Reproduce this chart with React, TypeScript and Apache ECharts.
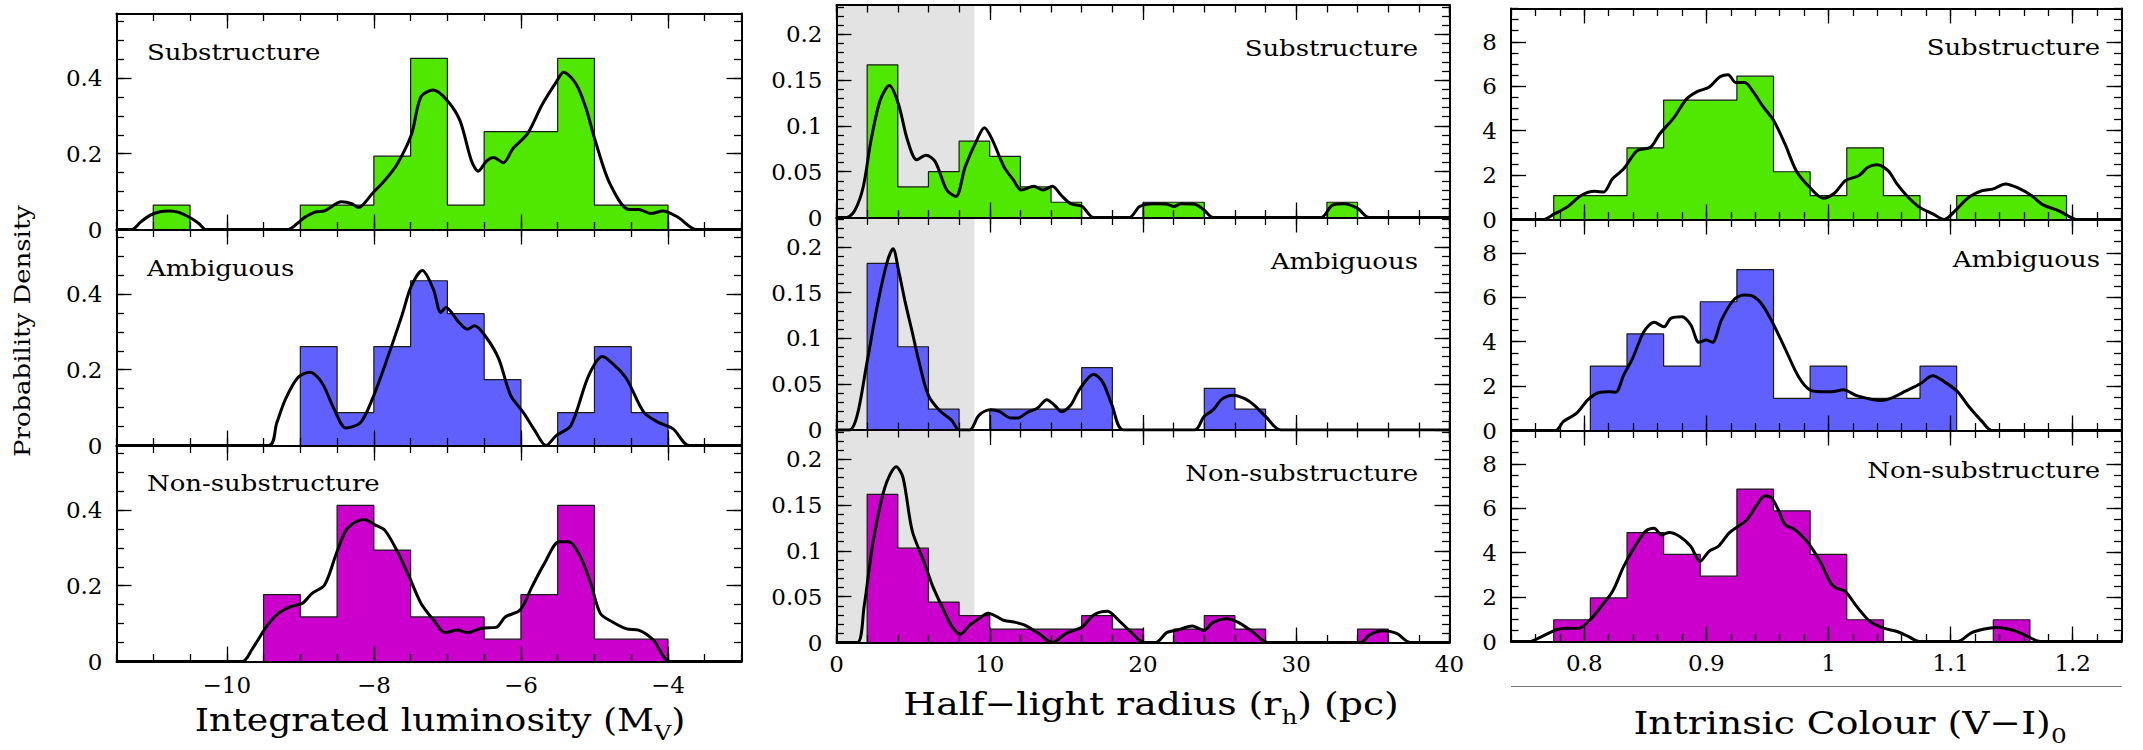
import React, { useEffect, useRef } from "react";
import * as echarts from "echarts";

const FONT = "'DejaVu Serif', 'Liberation Serif', serif";
const STRETCH = 1.18;

// ---------------- Histogram counts ----------------
// Integrated luminosity (M_V): bins of 0.5 mag starting at -11
const lumBinStart = -11;
const lumBinWidth = 0.5;
const lumCountsSub = [1, 0, 0, 0, 1, 1, 3, 7, 1, 4, 4, 7, 1, 1];
const lumCountsAmb = [0, 0, 0, 0, 3, 1, 3, 5, 4, 2, 0, 1, 3, 1];
const lumCountsNon = [0, 0, 0, 3, 2, 7, 5, 2, 2, 1, 3, 7, 1, 1];

// Half-light radius (pc): bins of 2 pc starting at 0
const rhBinStart = 0;
const rhBinWidth = 2;
const rhCountsSub = [0, 10, 2, 3, 5, 4, 2, 1, 0, 0, 1, 1, 0, 0, 0, 0, 1, 0, 0];
const rhCountsAmb = [0, 8, 4, 1, 0, 1, 1, 1, 3, 0, 0, 0, 2, 1, 0, 0, 0, 0, 0];
const rhCountsNon = [0, 11, 7, 3, 2, 1, 1, 1, 2, 1, 0, 1, 2, 1, 0, 0, 0, 1, 0];

// Intrinsic colour (V-I)_0: bins of 0.03 starting at 0.775
const colBinStart = 0.775;
const colBinWidth = 0.03;
const colCountsSub = [1, 1, 3, 5, 5, 6, 2, 1, 3, 1, 0, 1, 1, 1];
const colCountsAmb = [0, 2, 3, 2, 4, 5, 1, 2, 1, 1, 2, 0, 0, 0];
const colCountsNon = [1, 2, 5, 4, 3, 7, 6, 4, 1, 0, 0, 0, 1, 0];

// ---------------- KDE curves ----------------
const lumKdeSub = [[-11.5,0],[-11.29,0],[-11.17,0.02],[-11.04,0.038],[-10.91,0.047],[-10.78,0.049],[-10.65,0.045],[-10.48,0.029],[-10.38,0.016],[-10.28,0],[-9.17,0],[-9.03,0.018],[-8.94,0.032],[-8.8,0.046],[-8.67,0.049],[-8.44,0.073],[-8.3,0.068],[-8.21,0.058],[-8.02,0.095],[-7.85,0.13],[-7.69,0.17],[-7.49,0.25],[-7.36,0.35],[-7.19,0.368],[-7.0,0.34],[-6.83,0.288],[-6.67,0.18],[-6.58,0.154],[-6.47,0.18],[-6.37,0.19],[-6.24,0.176],[-6.11,0.213],[-5.91,0.253],[-5.71,0.33],[-5.52,0.389],[-5.42,0.415],[-5.25,0.384],[-5.12,0.323],[-4.99,0.235],[-4.79,0.121],[-4.53,0.053],[-4.4,0.053],[-4.23,0.042],[-4.07,0.049],[-3.87,0.033],[-3.61,0],[-3,0]];
const lumKdeAmb = [[-11.5,0],[-9.43,0],[-9.32,0.06],[-9.2,0.123],[-9.03,0.18],[-8.87,0.193],[-8.71,0.167],[-8.54,0.096],[-8.38,0.046],[-8.18,0.061],[-8.02,0.123],[-7.82,0.228],[-7.62,0.342],[-7.49,0.421],[-7.34,0.462],[-7.19,0.412],[-7.09,0.351],[-7.02,0.364],[-6.86,0.329],[-6.73,0.307],[-6.63,0.316],[-6.47,0.285],[-6.3,0.228],[-6.14,0.132],[-5.97,0.088],[-5.81,0.039],[-5.66,0],[-5.52,0.026],[-5.32,0.053],[-5.08,0.184],[-4.89,0.235],[-4.72,0.21],[-4.56,0.175],[-4.33,0.088],[-4.13,0.061],[-3.93,0.044],[-3.71,0],[-3,0]];
const lumKdeNon = [[-11.5,0],[-9.79,0],[-9.66,0.031],[-9.46,0.092],[-9.3,0.127],[-9.13,0.145],[-8.97,0.154],[-8.84,0.18],[-8.67,0.202],[-8.51,0.285],[-8.38,0.346],[-8.25,0.368],[-8.13,0.375],[-7.98,0.36],[-7.85,0.346],[-7.69,0.294],[-7.52,0.224],[-7.36,0.154],[-7.19,0.11],[-7.03,0.076],[-6.86,0.083],[-6.73,0.076],[-6.54,0.088],[-6.34,0.09],[-6.21,0.118],[-6.01,0.136],[-5.85,0.197],[-5.68,0.259],[-5.48,0.316],[-5.35,0.316],[-5.19,0.276],[-5.05,0.206],[-4.92,0.127],[-4.76,0.105],[-4.56,0.086],[-4.4,0.083],[-4.2,0.057],[-3.97,0],[-3,0]];

const rhKdeSub = [[0,0],[0.66,0],[1.2,0.008],[1.74,0.033],[2.25,0.084],[2.85,0.128],[3.45,0.144],[4.04,0.124],[4.64,0.084],[5.24,0.063],[5.84,0.068],[6.44,0.061],[7.19,0.03],[7.79,0.023],[8.39,0.055],[9.14,0.084],[9.65,0.098],[10.19,0.084],[10.94,0.055],[11.54,0.041],[12.05,0.03],[12.88,0.034],[13.48,0.03],[14.08,0.034],[14.68,0.024],[15.28,0.015],[16.03,0.012],[16.78,0],[19.1,0],[19.78,0.012],[20.67,0.015],[21.57,0.0145],[22.02,0.012],[22.47,0.015],[23.37,0.0145],[24.0,0.008],[24.57,0],[31.6,0],[32.36,0.0135],[33.1,0.015],[34.0,0.01],[34.76,0],[40,0]];
const rhKdeAmb = [[0,0],[0.84,0],[1.35,0.016],[1.95,0.07],[2.7,0.139],[3.3,0.183],[3.69,0.198],[4.04,0.175],[4.49,0.139],[4.94,0.107],[5.39,0.074],[5.99,0.038],[6.74,0.021],[7.49,0.011],[8.03,0],[8.69,0],[9.29,0.016],[10.04,0.022],[10.64,0.02],[11.39,0.013],[11.84,0.013],[12.43,0.019],[13.12,0.024],[13.72,0.033],[14.23,0.027],[14.68,0.02],[15.28,0.027],[15.88,0.045],[16.78,0.061],[17.38,0.052],[17.98,0.027],[18.73,0],[23.37,0],[23.97,0.0145],[24.57,0.022],[25.17,0.034],[25.92,0.038],[26.67,0.034],[27.27,0.027],[28.01,0.0145],[29.0,0],[40,0]];
const rhKdeNon = [[0,0],[1.35,0],[1.8,0.039],[2.4,0.111],[3.15,0.169],[3.9,0.192],[4.34,0.18],[4.94,0.122],[5.69,0.089],[6.29,0.061],[6.89,0.039],[7.55,0.017],[8.09,0.009],[8.69,0.019],[9.29,0.026],[9.89,0.032],[10.49,0.028],[10.94,0.024],[11.69,0.022],[12.28,0.019],[13.18,0.01],[14.08,0],[14.98,0.01],[16.03,0.017],[16.78,0.03],[17.68,0.034],[18.43,0.024],[19.18,0.012],[20.07,0],[20.82,0],[21.57,0.011],[22.32,0.014],[23.22,0.018],[23.97,0.013],[24.57,0.022],[25.47,0.026],[26.22,0.022],[27.12,0.012],[28.16,0],[34.2,0],[34.76,0.008],[35.66,0.0127],[36.55,0.01],[37.45,0],[40,0]];

const colKdeSub = [[0.74,0],[0.7662,0],[0.7754,0.25],[0.7864,0.58],[0.7974,1.08],[0.8084,1.27],[0.8158,1.24],[0.8231,1.83],[0.8323,2.28],[0.8433,3.1],[0.8543,3.25],[0.8617,3.85],[0.869,4.3],[0.8745,4.67],[0.8837,5.42],[0.8928,5.77],[0.902,5.95],[0.9112,6.43],[0.9178,6.52],[0.924,6.17],[0.9314,6.17],[0.9387,5.72],[0.946,5.12],[0.9552,4.45],[0.9644,3.4],[0.9736,2.2],[0.9846,1.45],[0.9956,0.96],[1.0048,1.18],[1.0139,1.75],[1.025,1.98],[1.0323,2.35],[1.0396,2.47],[1.0488,2.2],[1.0561,1.6],[1.0653,1.0],[1.0745,0.55],[1.0855,0.25],[1.0947,0],[1.1039,0.4],[1.1149,1.0],[1.1259,1.3],[1.135,1.38],[1.145,1.6],[1.1552,1.42],[1.1662,1.08],[1.1754,0.67],[1.1883,0.4],[1.1956,0.18],[1.2029,0],[1.24,0]];
const colKdeAmb = [[0.74,0],[0.7765,0],[0.7828,0.4],[0.7938,0.78],[0.8029,1.38],[0.8121,1.71],[0.8206,1.75],[0.8257,1.72],[0.8323,2.5],[0.8396,3.25],[0.8488,4.45],[0.8572,4.87],[0.8653,4.67],[0.8708,5.05],[0.88,5.12],[0.8873,4.75],[0.8939,3.97],[0.9002,4.07],[0.905,3.97],[0.9123,4.97],[0.9222,5.87],[0.9306,6.1],[0.938,6.05],[0.946,5.65],[0.9552,4.75],[0.9644,3.7],[0.9754,2.43],[0.9846,1.83],[0.9938,1.75],[1.0029,1.75],[1.0121,1.83],[1.0231,1.57],[1.0341,1.42],[1.0433,1.35],[1.0525,1.48],[1.0635,1.78],[1.0745,2.08],[1.0855,2.46],[1.0947,2.2],[1.1057,1.75],[1.1149,1.08],[1.1259,0.4],[1.1339,0],[1.24,0]];
const colKdeNon = [[0.74,0],[0.7552,0],[0.7644,0.2],[0.7772,0.53],[0.7864,0.6],[0.7956,0.6],[0.8048,0.98],[0.8139,1.58],[0.8231,2.25],[0.8323,3.38],[0.8415,4.28],[0.8499,4.95],[0.8572,5.1],[0.8635,4.8],[0.8697,4.91],[0.8782,4.73],[0.8873,4.28],[0.8947,3.6],[0.902,4.05],[0.9101,4.3],[0.9185,4.88],[0.9259,5.18],[0.9332,5.48],[0.9406,6.08],[0.9479,6.56],[0.9534,6.46],[0.9589,5.93],[0.9644,5.26],[0.9717,5.06],[0.9772,4.8],[0.9846,4.35],[0.9938,3.53],[1.0018,2.63],[1.0066,2.4],[1.0139,2.25],[1.0231,1.58],[1.0341,0.9],[1.0451,0.6],[1.0561,0.45],[1.0653,0.23],[1.0745,0],[1.1057,0],[1.1167,0.38],[1.1277,0.56],[1.1369,0.63],[1.1497,0.53],[1.1607,0.3],[1.1736,0],[1.24,0]];

// ---------------- Axis ticks / labels ----------------
const lumTickLabels = [-10, -8, -6, -4];
const rhTickLabels = [0, 10, 20, 30, 40];
const colTickLabels = [0.8, 0.9, 1, 1.1, 1.2];
const lumYTickLabels = [0, 0.2, 0.4];
const rhYTickLabels = [0, 0.05, 0.1, 0.15, 0.2];
const colYTickLabels = [0, 2, 4, 6, 8];

const panelNames = ["Substructure", "Ambiguous", "Non-substructure"];
const groupColors = ["#50e800", "#6060ff", "#cc00cc"];
const shadeRange = [0, 9];

function steps(a: number, b: number, s: number) {
  const n = Math.round((b - a) / s);
  const out: number[] = [];
  for (let i = 0; i <= n; i++) out.push(+(a + i * s).toFixed(6));
  return out;
}

function fmt(v: number) {
  const r = Math.round(v * 1000) / 1000;
  return r < 0 ? "\u2212" + String(-r) : String(r);
}

const columns = [
  {
    left: 116.5, width: 625, tops: [13.5, 229.5, 445.5], height: 216,
    xMin: -11.5, xMax: -3, yMax: 0.57,
    xMajor: lumTickLabels, xMinor: steps(-11.5, -3, 0.5),
    yMajor: lumYTickLabels, yMinor: steps(0, 0.55, 0.05),
    binStart: lumBinStart, binWidth: lumBinWidth,
    counts: [lumCountsSub, lumCountsAmb, lumCountsNon],
    kde: [lumKdeSub, lumKdeAmb, lumKdeNon],
    label: { align: "left", x: 147, ys: [52.5, 268.5, 483.5] },
    xLabelMargin: 12,
    shade: false,
  },
  {
    left: 836.5, width: 613, tops: [5, 217.5, 430], height: 212.5,
    xMin: 0, xMax: 40, yMax: 0.232,
    xMajor: rhTickLabels, xMinor: steps(0, 40, 2),
    yMajor: rhYTickLabels, yMinor: steps(0, 0.23, 0.01),
    binStart: rhBinStart, binWidth: rhBinWidth,
    counts: [rhCountsSub, rhCountsAmb, rhCountsNon],
    kde: [rhKdeSub, rhKdeAmb, rhKdeNon],
    label: { align: "right", x: 1418, ys: [49, 262, 474] },
    xLabelMargin: 10,
    shade: true,
  },
  {
    left: 1511, width: 610.5, tops: [8.5, 219.5, 430.5], height: 211,
    xMin: 0.74, xMax: 1.24, yMax: 9.5,
    xMajor: colTickLabels, xMinor: steps(0.74, 1.24, 0.02),
    yMajor: colYTickLabels, yMinor: steps(0, 9.5, 0.5),
    binStart: colBinStart, binWidth: colBinWidth,
    counts: [colCountsSub, colCountsAmb, colCountsNon],
    kde: [colKdeSub, colKdeAmb, colKdeNon],
    label: { align: "right", x: 2100, ys: [47.5, 260, 471] },
    xLabelMargin: 10,
    shade: false,
  },
];

function buildOption() {
  const grid: any[] = [];
  const xAxis: any[] = [];
  const yAxis: any[] = [];
  const series: any[] = [];
  const graphic: any[] = [];
  const tickStyle = { color: "#000", width: 1.3 };
  const frameStyle = { color: "#000", width: 2 };
  const labelStyle = { fontFamily: FONT, fontSize: 23, color: "#000" };
  const MAJ = 15;
  const MIN = 7.5;

  columns.forEach((c, ci) => {
    for (let r = 0; r < 3; r++) {
      const gi = ci * 3 + r;
      grid.push({
        left: c.left, top: c.tops[r], width: c.width, height: c.height,
        containLabel: false, outerBoundsMode: "none",
      });
      const xb = { type: "value", gridIndex: gi, min: c.xMin, max: c.xMax, splitLine: { show: false }, z: 10, silent: true };
      const yb = { type: "value", gridIndex: gi, min: 0, max: c.yMax, splitLine: { show: false }, z: 10, silent: true };
      xAxis.push(
        { ...xb, position: "bottom", axisLine: { show: true, onZero: false, lineStyle: frameStyle },
          axisTick: { show: true, inside: true, length: MAJ, customValues: c.xMajor, lineStyle: tickStyle },
          axisLabel: { show: r === 2, customValues: c.xMajor, formatter: fmt, margin: c.xLabelMargin, ...labelStyle } },
        { ...xb, position: "bottom", axisLine: { show: false, onZero: false },
          axisTick: { show: true, inside: true, length: MIN, customValues: c.xMinor, lineStyle: tickStyle },
          axisLabel: { show: false } },
        { ...xb, position: "top", axisLine: { show: true, onZero: false, lineStyle: frameStyle },
          axisTick: { show: true, inside: true, length: MAJ, customValues: c.xMajor, lineStyle: tickStyle },
          axisLabel: { show: false } },
        { ...xb, position: "top", axisLine: { show: false, onZero: false },
          axisTick: { show: true, inside: true, length: MIN, customValues: c.xMinor, lineStyle: tickStyle },
          axisLabel: { show: false } }
      );
      yAxis.push(
        { ...yb, position: "left", axisLine: { show: true, onZero: false, lineStyle: frameStyle },
          axisTick: { show: true, inside: true, length: MAJ, customValues: c.yMajor, lineStyle: tickStyle },
          axisLabel: { show: true, customValues: c.yMajor, formatter: fmt, margin: 14, ...labelStyle } },
        { ...yb, position: "left", axisLine: { show: false, onZero: false },
          axisTick: { show: true, inside: true, length: MIN, customValues: c.yMinor, lineStyle: tickStyle },
          axisLabel: { show: false } },
        { ...yb, position: "right", axisLine: { show: true, onZero: false, lineStyle: frameStyle },
          axisTick: { show: true, inside: true, length: MAJ, customValues: c.yMajor, lineStyle: tickStyle },
          axisLabel: { show: false } },
        { ...yb, position: "right", axisLine: { show: false, onZero: false },
          axisTick: { show: true, inside: true, length: MIN, customValues: c.yMinor, lineStyle: tickStyle },
          axisLabel: { show: false } }
      );
      const ax = gi * 4;
      const yMax = c.yMax;
      if (c.shade) {
        series.push({
          type: "custom", xAxisIndex: ax, yAxisIndex: ax, z: 1, silent: true,
          data: [[shadeRange[0], shadeRange[1]]],
          renderItem: (p: any, api: any) => {
            const a = api.coord([api.value(0), yMax]);
            const b = api.coord([api.value(1), 0]);
            return { type: "rect", shape: { x: a[0], y: a[1], width: b[0] - a[0], height: b[1] - a[1] }, style: { fill: "#e3e3e3" } };
          },
        });
      }
      const counts = c.counts[r];
      const total = counts.reduce((s, v) => s + v, 0);
      const w = c.binWidth;
      const bins = counts.map((n, i) => [c.binStart + i * w, c.binStart + (i + 1) * w, n / (total * w)]);
      const outline: number[][] = [[bins[0][0], 0]];
      bins.forEach((b) => { outline.push([b[0], b[2]]); outline.push([b[1], b[2]]); });
      outline.push([bins[bins.length - 1][1], 0]);
      series.push({
        type: "line", xAxisIndex: ax, yAxisIndex: ax, z: 3, silent: true,
        data: outline, symbol: "none",
        lineStyle: { color: "#1a1a1a", width: 1.2 },
        areaStyle: { color: groupColors[r], opacity: 1, origin: "start" },
      });
      series.push({
        type: "line", xAxisIndex: ax, yAxisIndex: ax, z: 4, silent: true,
        data: c.kde[r], symbol: "none", smooth: 0.3, lineStyle: { color: "#000", width: 3 },
      });
      graphic.push({
        type: "text", x: c.label.x, y: c.label.ys[r], z: 20, scaleX: STRETCH,
        style: { text: panelNames[r], fontFamily: FONT, fontSize: 22, fill: "#000", align: c.label.align, verticalAlign: "middle" },
      });
    }
  });

  const richBase = { fontFamily: FONT, fontSize: 32, lineHeight: 46, verticalAlign: "middle", fill: "#000" };
  const richSub = { fontFamily: FONT, fontSize: 21, lineHeight: 46, verticalAlign: "bottom", fill: "#000" };
  graphic.push(
    { type: "text", x: 440, y: 720, z: 20, scaleX: 1.13,
      style: { text: "{a|Integrated luminosity (M}{s|V}{a|)}", rich: { a: richBase, s: richSub }, align: "center", verticalAlign: "middle" } },
    { type: "text", x: 1151, y: 704, z: 20, scaleX: STRETCH,
      style: { text: "{a|Half\u2212light radius (r}{s|h}{a|) (pc)}", rich: { a: richBase, s: richSub }, align: "center", verticalAlign: "middle" } },
    { type: "text", x: 1850, y: 723, z: 20, scaleX: STRETCH,
      style: { text: "{a|Intrinsic Colour (V\u2212I)}{s|0}", rich: { a: richBase, s: richSub }, align: "center", verticalAlign: "middle" } },
    { type: "text", x: 23, y: 331, rotation: Math.PI / 2, z: 20, scaleX: STRETCH,
      style: { text: "Probability Density", fontFamily: FONT, fontSize: 22, fill: "#000", align: "center", verticalAlign: "middle" } },
    { type: "line", z: 20, shape: { x1: 1511, y1: 686.5, x2: 2121.5, y2: 686.5 }, style: { stroke: "#777", lineWidth: 1 } }
  );

  return { animation: false, backgroundColor: "#fff", grid, xAxis, yAxis, series, graphic };
}

export default function App() {
  const ref = useRef<HTMLDivElement>(null);
  useEffect(() => {
    const chart = echarts.init(ref.current as HTMLDivElement, null, { renderer: "svg" });
    chart.setOption(buildOption() as any);
    return () => chart.dispose();
  }, []);
  return <div ref={ref} style={{ position: "absolute", left: 0, top: 0, width: 2143, height: 750, background: "#fff" }} />;
}
